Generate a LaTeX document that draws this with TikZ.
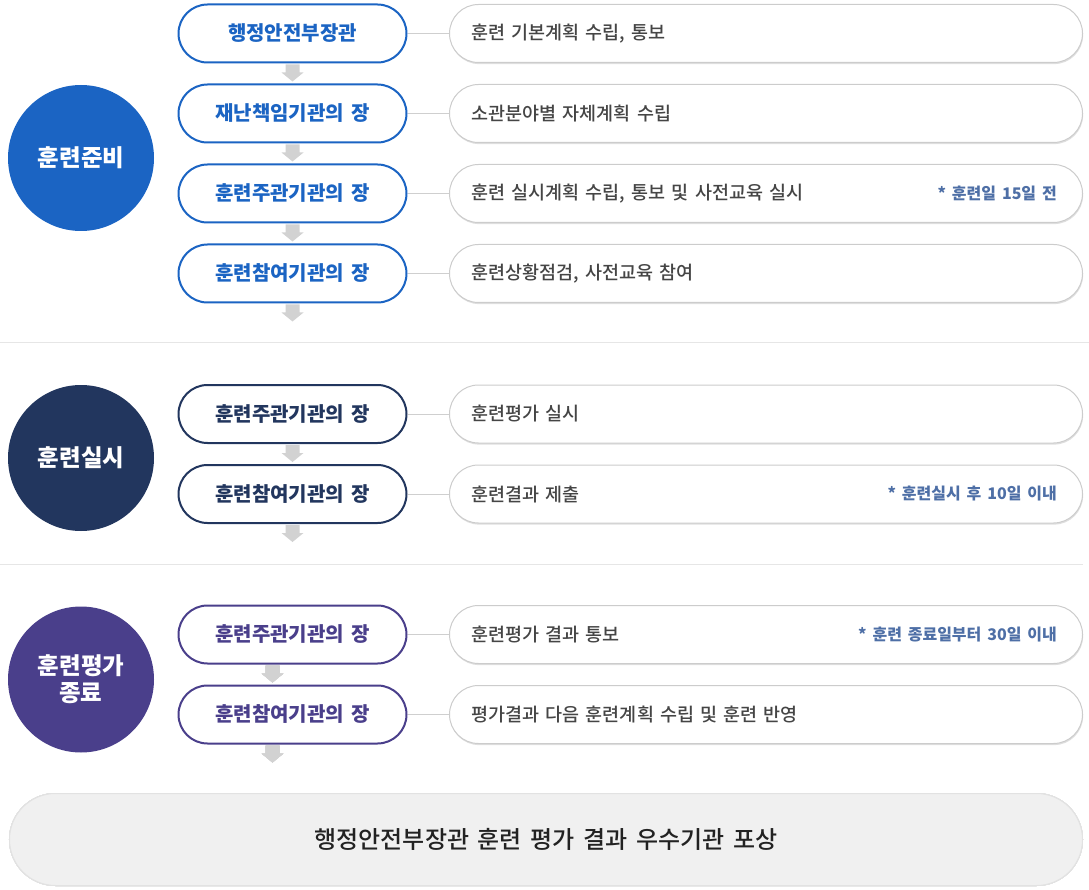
\documentclass[tikz,border=0pt]{standalone}
\usepackage{fontspec}
\setmainfont{Noto Sans CJK KR}[WordSpace=1.6]
\newfontfamily\krmed{Noto Sans CJK KR Medium}[WordSpace=1.6]
\usetikzlibrary{calc,shadows}
\definecolor{cblue}{HTML}{1B64C3}
\definecolor{cnavy}{HTML}{22365E}
\definecolor{cpurple}{HTML}{4A3F8B}
\definecolor{rtext}{HTML}{454545}
\definecolor{cnote}{HTML}{4E6FA6}
\definecolor{boxline}{HTML}{CCCCCC}
\definecolor{linkgray}{HTML}{CFCFCF}
\definecolor{sepgray}{HTML}{E6E6E6}
\definecolor{arrgray}{HTML}{D2D2D2}
\definecolor{barfill}{HTML}{F0F0F0}
\definecolor{barline}{HTML}{E2E2E2}
\definecolor{bartext}{HTML}{222222}
\newcommand\blockarrow[2]{%
  \fill[arrgray] ($(#1.south)+(#2,0)+(-7,1)$) -- ++(14,0) -- ++(0,8) -- ++(4,0)
    -- ++(-11,9) -- ++(-11,-9) -- ++(4,0) -- cycle;}
\tikzset{
  phase/.style={circle, fill=#1, minimum size=146pt, inner sep=0pt, text=white,
    align=center, font=\fontsize{23.5}{27}\selectfont\bfseries},
  lbox/.style={draw=#1, line width=2pt, rounded corners=29pt, minimum width=228pt,
    minimum height=58pt, inner sep=0pt, text=#1, fill=white,
    font=\fontsize{20}{22}\selectfont\bfseries},
  rbox/.style={draw=boxline, line width=1pt, fill=white, rounded corners=29pt,
    minimum height=58pt, inner xsep=22pt, inner ysep=0pt, text width=589pt,
    align=left, anchor=west, text=rtext, font=\krmed\fontsize{18.5}{20}\selectfont,
    drop shadow={shadow xshift=0.6pt, shadow yshift=-1.6pt, fill=black, opacity=0.13}},
  note/.style={anchor=east, text=cnote, inner sep=0pt, font=\fontsize{16}{18}\selectfont\bfseries},
  link/.style={draw=linkgray, line width=1pt},
  sep/.style={draw=sepgray, line width=1pt},
}
\begin{document}
\begin{tikzpicture}[x=1pt,y=-1pt]
\useasboundingbox (0,0) rectangle (1089,890);
% separators
\draw[sep] (0,343) -- (1089,343);
\draw[sep] (0,564) -- (1083,564);
% phases
\node[phase=cblue] (p1) at (81,158) {훈련준비};
\node[phase=cnavy] (p2) at (81,458) {훈련실시};
\node[phase=cpurple] (p3) at (81,679.5) {훈련평가\\종료};
% left boxes
\node[lbox=cblue] (a1) at (292.5,33.5) {행정안전부장관};
\node[lbox=cblue] (a2) at (292.5,113.5) {재난책임기관의 장};
\node[lbox=cblue] (a3) at (292.5,193.5) {훈련주관기관의 장};
\node[lbox=cblue] (a4) at (292.5,273.5) {훈련참여기관의 장};
\node[lbox=cnavy] (b1) at (292.5,414) {훈련주관기관의 장};
\node[lbox=cnavy] (b2) at (292.5,494) {훈련참여기관의 장};
\node[lbox=cpurple] (c1) at (292.5,634.5) {훈련주관기관의 장};
\node[lbox=cpurple] (c2) at (292.5,714.5) {훈련참여기관의 장};
% right boxes
\node[rbox] (ra1) at (449,33.5) {훈련 기본계획 수립, 통보};
\node[rbox] (ra2) at (449,113.5) {소관분야별 자체계획 수립};
\node[rbox] (ra3) at (449,193.5) {훈련 실시계획 수립, 통보 및 사전교육 실시};
\node[rbox] (ra4) at (449,273.5) {훈련상황점검, 사전교육 참여};
\node[rbox] (rb1) at (449,414) {훈련평가 실시};
\node[rbox] (rb2) at (449,494) {훈련결과 제출};
\node[rbox] (rc1) at (449,634.5) {훈련평가 결과 통보};
\node[rbox] (rc2) at (449,714.5) {평가결과 다음 훈련계획 수립 및 훈련 반영};
% notes
\node[note] (n1) at (1057,193.5) {* 훈련일 15일 전};
\node[note] (n2) at (1057,494) {* 훈련실시 후 10일 이내};
\node[note] (n3) at (1057,634.5) {* 훈련 종료일부터 30일 이내};
% links
\foreach \l/\r in {a1/ra1,a2/ra2,a3/ra3,a4/ra4,b1/rb1,b2/rb2,c1/rc1,c2/rc2}
  \draw[link] (\l.east) -- (\r.west);
% arrows
\foreach \n in {a1,a2,a3,a4,b1,b2} \blockarrow{\n}{0}
\foreach \n in {c1,c2} \blockarrow{\n}{-20}
% bottom bar
\node[draw=barline, line width=1pt, fill=barfill, rounded corners=46pt,
  minimum width=1073pt, minimum height=92pt, inner sep=0pt, text=bartext,
  font=\krmed\fontsize{24}{26}\selectfont] (bar) at (546,839.5)
  {행정안전부장관 훈련 평가 결과 우수기관 포상};
\end{tikzpicture}
\end{document}
